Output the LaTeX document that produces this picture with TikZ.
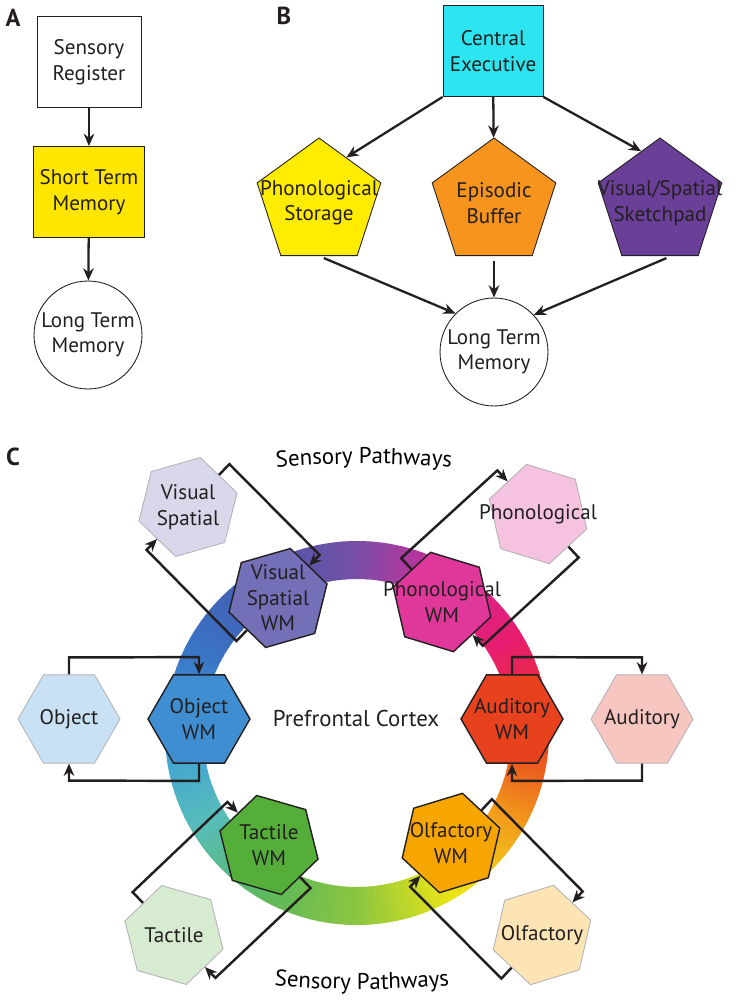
\documentclass[tikz,border=0pt]{standalone}
\usepackage{fontspec}
\setmainfont{PT Sans}
\usetikzlibrary{shapes.geometric,arrows.meta,calc,decorations.text}

\definecolor{ink}{HTML}{231F20}
\definecolor{hexedge}{HTML}{B4B4B8}
\definecolor{stmyellow}{HTML}{FFE600}
\definecolor{cecyan}{HTML}{2CE5F0}
\definecolor{phyellow}{HTML}{FFEC00}
\definecolor{eborange}{HTML}{F7941D}
\definecolor{vspurple}{HTML}{6A3F97}
% ring colour stops, every 30 degrees from the top
\definecolor{rg090}{HTML}{7650A6}
\definecolor{rg120}{HTML}{4658AC}
\definecolor{rg150}{HTML}{3A72C4}
\definecolor{rg180}{HTML}{3E9FDA}
\definecolor{rg210}{HTML}{58BDB8}
\definecolor{rg240}{HTML}{5CB85A}
\definecolor{rg270}{HTML}{8EC640}
\definecolor{rg300}{HTML}{EDE614}
\definecolor{rg330}{HTML}{F39A1C}
\definecolor{rg360}{HTML}{E8361E}
\definecolor{rg390}{HTML}{E81C70}
\definecolor{rg420}{HTML}{D1299A}
% working memory hexagons
\definecolor{vswmc}{HTML}{7470B8}
\definecolor{phwmc}{HTML}{E0379B}
\definecolor{objwmc}{HTML}{3F8ED2}
\definecolor{audwmc}{HTML}{E8411E}
\definecolor{tacwmc}{HTML}{55AE3A}
\definecolor{olfwmc}{HTML}{F7A600}
% sensory hexagons
\definecolor{vsc}{HTML}{D9D8EB}
\definecolor{phc}{HTML}{F5C2E0}
\definecolor{objc}{HTML}{C9E1F4}
\definecolor{audc}{HTML}{F7C6C0}
\definecolor{tacc}{HTML}{D7EBD1}
\definecolor{olfc}{HTML}{FDE4B5}

\newcommand\lblfont{\fontsize{12}{14.5}\selectfont}
\newcommand\pathfont{\fontsize{13}{15}\selectfont}

\tikzset{
  tag/.style={font=\fontsize{14}{16}\selectfont\bfseries, text=ink},
  box/.style={draw=ink, line width=0.5pt, minimum width=2.08cm, minimum height=1.82cm,
    align=center, font=\lblfont, text=ink},
  ltm/.style={circle, draw=ink, line width=0.5pt, minimum size=2.16cm, inner sep=0pt,
    align=center, font=\lblfont, text=ink},
  pent/.style={regular polygon, regular polygon sides=5, minimum size=2.6cm, inner sep=0pt,
    draw=ink, line width=0.5pt},
  hexsn/.style={regular polygon, regular polygon sides=6, minimum size=2.04cm, inner sep=0pt,
    draw=hexedge, line width=0.5pt},
  hexwm/.style={regular polygon, regular polygon sides=6, minimum size=2.04cm, inner sep=0pt,
    draw=ink, line width=0.8pt},
  lbl/.style={align=center, font=\lblfont, text=ink},
  arr/.style={draw=ink, line width=1.3pt, -{Stealth[length=7pt,width=6pt]}},
  link/.style={draw=ink, line width=1.4pt, -{Stealth[length=7pt,width=6pt]}}
}

\begin{document}
\begin{tikzpicture}[x=0.02cm, y=-0.02cm]
  \useasboundingbox (0,0) rectangle (750,1000);

  % A
  \node[tag] at (13,18) {A};
  \node[box] (sr) at (89,62) {Sensory\\Register};
  \node[box, fill=stmyellow] (stm) at (89,192) {Short Term\\Memory};
  \node[ltm] (ltma) at (88,335) {Long Term\\Memory};
  \draw[arr] (sr) -- (stm);
  \draw[arr] (stm) -- (ltma);

  % B
  \node[tag] at (284,16) {B};
  \node[box, minimum width=2cm, fill=cecyan] (ce) at (493,51) {Central\\Executive};
  \node[pent, fill=phyellow] (ps) at (319,203) {};
  \node[pent, fill=eborange] (eb) at (494,203) {};
  \node[pent, fill=vspurple] (vsp) at (660,203) {};
  \node[lbl] at (ps) {Phonological\\Storage};
  \node[lbl] at (eb) {Episodic\\Buffer};
  \node[lbl] at (vsp) {Visual/Spatial\\Sketchpad};
  \node[ltm] (ltmb) at (494,352) {Long Term\\Memory};
  \draw[arr] (ce.south west) -- (ps.59);
  \draw[arr] (ce) -- (eb);
  \draw[arr] (ce.south east) -- (vsp.110);
  \draw[arr, shorten <=3pt] (ps.south) -- (ltmb.135);
  \draw[arr, shorten <=3pt] (eb) -- (ltmb);
  \draw[arr, shorten <=3pt] (vsp.-78) -- (ltmb.43);

  % C
  \node[tag] at (13,457) {C};
  \begin{scope}[shift={(357,733)}, yscale=-1]
    \foreach \sa/\ca/\cb in {90/rg090/rg120, 120/rg120/rg150, 150/rg150/rg180,
        180/rg180/rg210, 210/rg210/rg240, 240/rg240/rg270, 270/rg270/rg300,
        300/rg300/rg330, 330/rg330/rg360, 360/rg360/rg390, 390/rg390/rg420,
        420/rg420/rg090}{
      \foreach \t in {0,2,...,28}{
        \pgfmathtruncatemacro\p{\t*100/30}
        \pgfmathsetmacro\s{\sa+\t}
        \pgfmathsetmacro\e{\sa+\t+2.4}
        \fill[\cb!\p!\ca] (\s:154) arc[start angle=\s, end angle=\e, radius=154]
          -- (\e:192) arc[start angle=\e, end angle=\s, radius=192] -- cycle;
      }
    }
  \end{scope}

  \node[hexwm, shape border rotate=16, fill=vswmc] (vswm) at (278,598) {};
  \node[hexwm, shape border rotate=-17, fill=phwmc] (phwm) at (442,602) {};
  \node[hexwm, fill=objwmc] (objwm) at (199,719) {};
  \node[hexwm, fill=audwmc] (audwm) at (512,719) {};
  \node[hexwm, shape border rotate=-16, fill=tacwmc] (tacwm) at (269,845) {};
  \node[hexwm, shape border rotate=17, fill=olfwmc] (olfwm) at (451,843) {};

  \node[hexsn, shape border rotate=16, fill=vsc] (vs) at (188,507) {};
  \node[hexsn, shape border rotate=-17, fill=phc] (ph) at (538,514) {};
  \node[hexsn, fill=objc] (obj) at (69,719) {};
  \node[hexsn, fill=audc] (aud) at (642,719) {};
  \node[hexsn, shape border rotate=-16, fill=tacc] (tac) at (174,935) {};
  \node[hexsn, shape border rotate=17, fill=olfc] (olf) at (542,935) {};

  % sensory pathways in and out
  \draw[link] (vs.46) -- ++(46:3mm) -- ($(vswm.46)+(46:3mm)$) -- (vswm.46);
  \draw[link] (vswm.226) -- ++(226:3mm) -- ($(vs.226)+(226:3mm)$) -- (vs.226);
  \draw[link] (phwm.133) -- ++(133:3mm) -- ($(ph.133)+(133:3mm)$) -- (ph.133);
  \draw[link] (ph.313) -- ++(313:3mm) -- ($(phwm.313)+(313:3mm)$) -- (phwm.313);
  \draw[link] (obj.90) -- ++(90:3.4mm) -- ($(objwm.90)+(90:3.4mm)$) -- (objwm.90);
  \draw[link] (objwm.270) -- ++(270:3.4mm) -- ($(obj.270)+(270:3.4mm)$) -- (obj.270);
  \draw[link] (audwm.90) -- ++(90:3.4mm) -- ($(aud.90)+(90:3.4mm)$) -- (aud.90);
  \draw[link] (aud.270) -- ++(270:3.4mm) -- ($(audwm.270)+(270:3.4mm)$) -- (audwm.270);
  \draw[link] (tac.134) -- ++(134:3mm) -- ($(tacwm.134)+(134:3mm)$) -- (tacwm.134);
  \draw[link] (tacwm.314) -- ++(314:3mm) -- ($(tac.314)+(314:3mm)$) -- (tac.314);
  \draw[link] (olfwm.47) -- ++(47:3mm) -- ($(olf.47)+(47:3mm)$) -- (olf.47);
  \draw[link] (olf.227) -- ++(227:3mm) -- ($(olfwm.227)+(227:3mm)$) -- (olfwm.227);

  \node[lbl] at (vswm) {Visual\\Spatial\\WM};
  \node[lbl] at (phwm) {Phonological\\WM};
  \node[lbl] at (objwm) {Object\\WM};
  \node[lbl] at (audwm) {Auditory\\WM};
  \node[lbl] at (tacwm) {Tactile\\WM};
  \node[lbl] at (olfwm) {Olfactory\\WM};
  \node[lbl] at (vs) {Visual\\Spatial};
  \node[lbl] at (ph) {Phonological};
  \node[lbl] at (obj) {Object};
  \node[lbl] at (aud) {Auditory};
  \node[lbl] at (tac) {Tactile};
  \node[lbl] at (olf) {Olfactory};

  \node[font=\pathfont, text=ink] (pfc) at (356,718) {Prefrontal Cortex};
  \path[decorate, decoration={text along path, text align=center,
      text={|\pathfont|Sensory Pathways}}]
    (262,469) .. controls (320,462) and (405,462) .. (466,469);
  \path[decorate, decoration={text along path, text align=center,
      text={|\pathfont|Sensory Pathways}}]
    (262,984) .. controls (320,991) and (405,991) .. (462,984);
\end{tikzpicture}
\end{document}
